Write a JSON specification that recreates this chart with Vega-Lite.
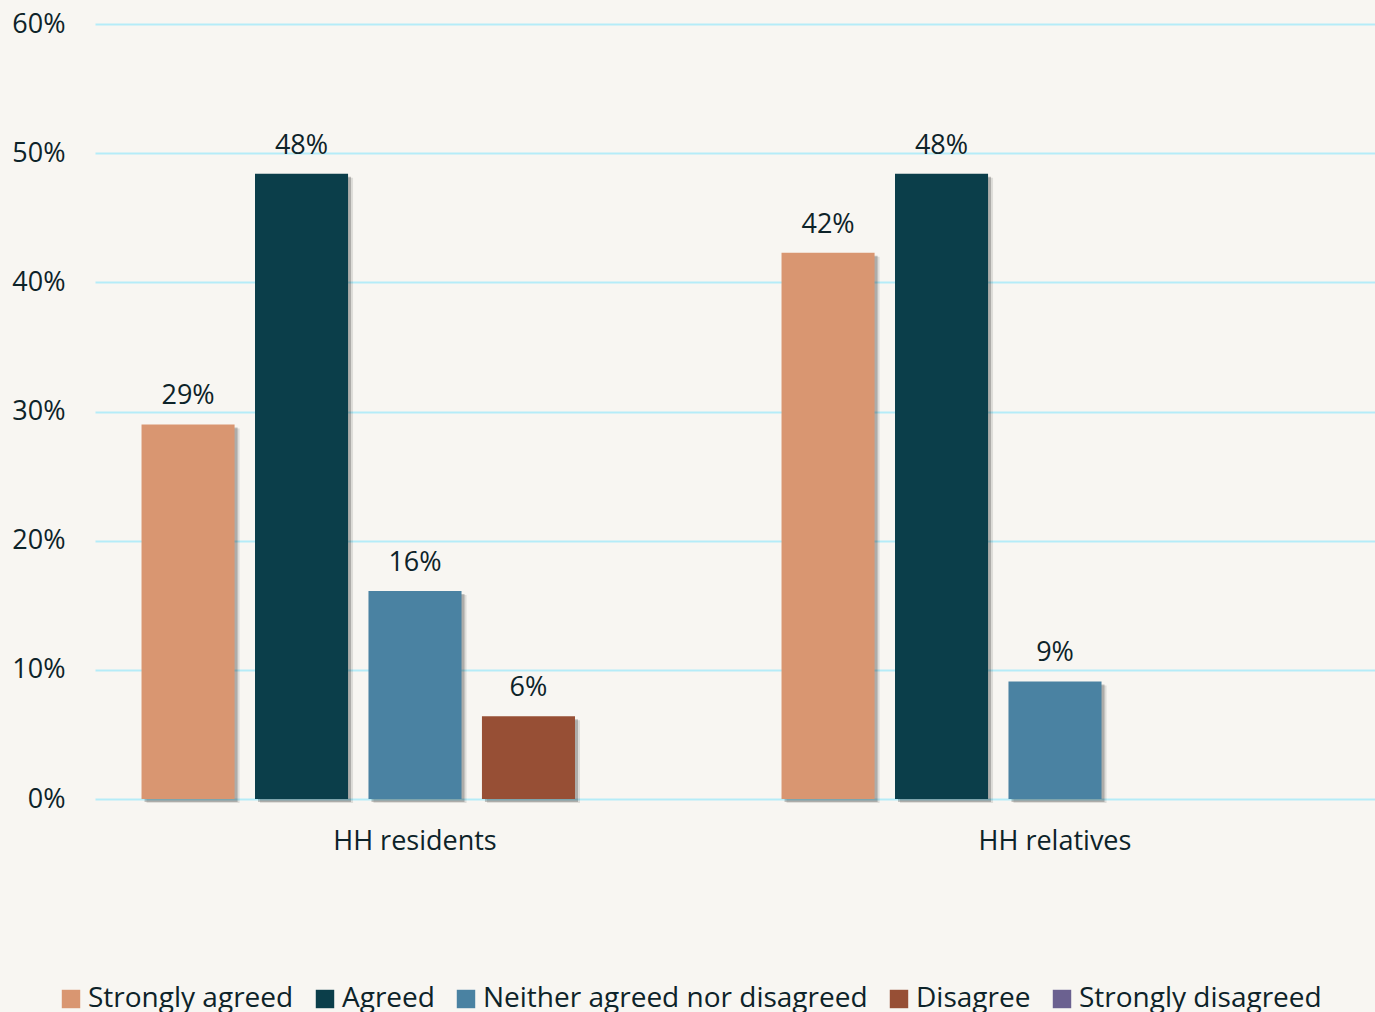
{
  "$schema": "https://vega.github.io/schema/vega-lite/v6.json",
  "autosize": {"type": "none"},
  "width": 1280,
  "height": 775,
  "padding": {"left": 95, "top": 24, "right": 0, "bottom": 213},
  "background": "#f8f6f2",
  "config": {
    "font": "Open Sans",
    "view": {"stroke": null},
    "axis": {"labelColor": "#0d2329", "labelFont": "Open Sans"},
    "legend": {"labelColor": "#0d2329", "labelFont": "Open Sans"}
  },
  "data": {
    "values": [
      {"group": "HH residents", "response": "Strongly agreed", "share": 0.29},
      {"group": "HH residents", "response": "Agreed", "share": 0.484},
      {"group": "HH residents", "response": "Neither agreed nor disagreed", "share": 0.161},
      {"group": "HH residents", "response": "Disagree", "share": 0.064},
      {"group": "HH relatives", "response": "Strongly agreed", "share": 0.423},
      {"group": "HH relatives", "response": "Agreed", "share": 0.484},
      {"group": "HH relatives", "response": "Neither agreed nor disagreed", "share": 0.091}
    ]
  },
  "resolve": {"scale": {"xOffset": "independent"}},
  "encoding": {
    "x": {
      "field": "group",
      "type": "nominal",
      "sort": ["HH residents", "HH relatives"],
      "scale": {"type": "band", "paddingInner": 0, "paddingOuter": 0},
      "axis": {
        "title": null,
        "labelAngle": 0,
        "labelFontSize": 27,
        "labelPadding": 29,
        "ticks": false,
        "domain": false
      }
    },
    "xOffset": {
      "field": "response",
      "type": "nominal",
      "scale": {
        "type": "band",
        "domain": ["Strongly agreed", "Agreed", "Neither agreed nor disagreed", "Disagree", "Strongly disagreed"],
        "paddingInner": 0.18,
        "paddingOuter": 0.41
      }
    },
    "y": {
      "field": "share",
      "type": "quantitative",
      "scale": {"domain": [0, 0.6], "nice": false},
      "axis": {
        "title": null,
        "format": ".0%",
        "values": [0, 0.1, 0.2, 0.3, 0.4, 0.5, 0.6],
        "labelFontSize": 27,
        "labelPadding": 30,
        "ticks": false,
        "domain": false,
        "grid": true,
        "gridColor": "#b5ecf8",
        "gridWidth": 2
      }
    }
  },
  "layer": [
    {
      "mark": {"type": "bar", "color": "#000000", "opacity": 0.1, "yOffset": 4, "y2Offset": 2},
      "encoding": {
        "xOffset": {
          "field": "response",
          "type": "nominal",
          "scale": {
            "type": "band",
            "domain": ["Strongly agreed", "Agreed", "Neither agreed nor disagreed", "Disagree", "Strongly disagreed"],
            "range": [5, 645],
            "paddingInner": 0.18,
            "paddingOuter": 0.41
          }
        }
      }
    },
    {
      "mark": {"type": "bar", "color": "#000000", "opacity": 0.22, "yOffset": 3, "y2Offset": 2},
      "encoding": {
        "xOffset": {
          "field": "response",
          "type": "nominal",
          "scale": {
            "type": "band",
            "domain": ["Strongly agreed", "Agreed", "Neither agreed nor disagreed", "Disagree", "Strongly disagreed"],
            "range": [3, 643],
            "paddingInner": 0.18,
            "paddingOuter": 0.41
          }
        }
      }
    },
    {
      "mark": {"type": "bar"},
      "encoding": {
        "color": {
          "field": "response",
          "type": "nominal",
          "scale": {
            "domain": ["Strongly agreed", "Agreed", "Neither agreed nor disagreed", "Disagree", "Strongly disagreed"],
            "range": ["#d99671", "#0b3e4a", "#4a82a2", "#974f35", "#6b6190"]
          },
          "legend": {
            "title": null,
            "orient": "none",
            "legendX": -38,
            "legendY": 961,
            "direction": "horizontal",
            "symbolType": "square",
            "symbolSize": 340,
            "symbolStrokeWidth": 0,
            "labelFontSize": 28,
            "labelOffset": 3,
            "columnPadding": 17,
            "labelLimit": 600
          }
        }
      }
    },
    {
      "mark": {"type": "text", "baseline": "middle", "dy": -28, "fontSize": 27, "color": "#0d2329"},
      "encoding": {
        "text": {"field": "share", "type": "quantitative", "format": ".0%"}
      }
    }
  ]
}
